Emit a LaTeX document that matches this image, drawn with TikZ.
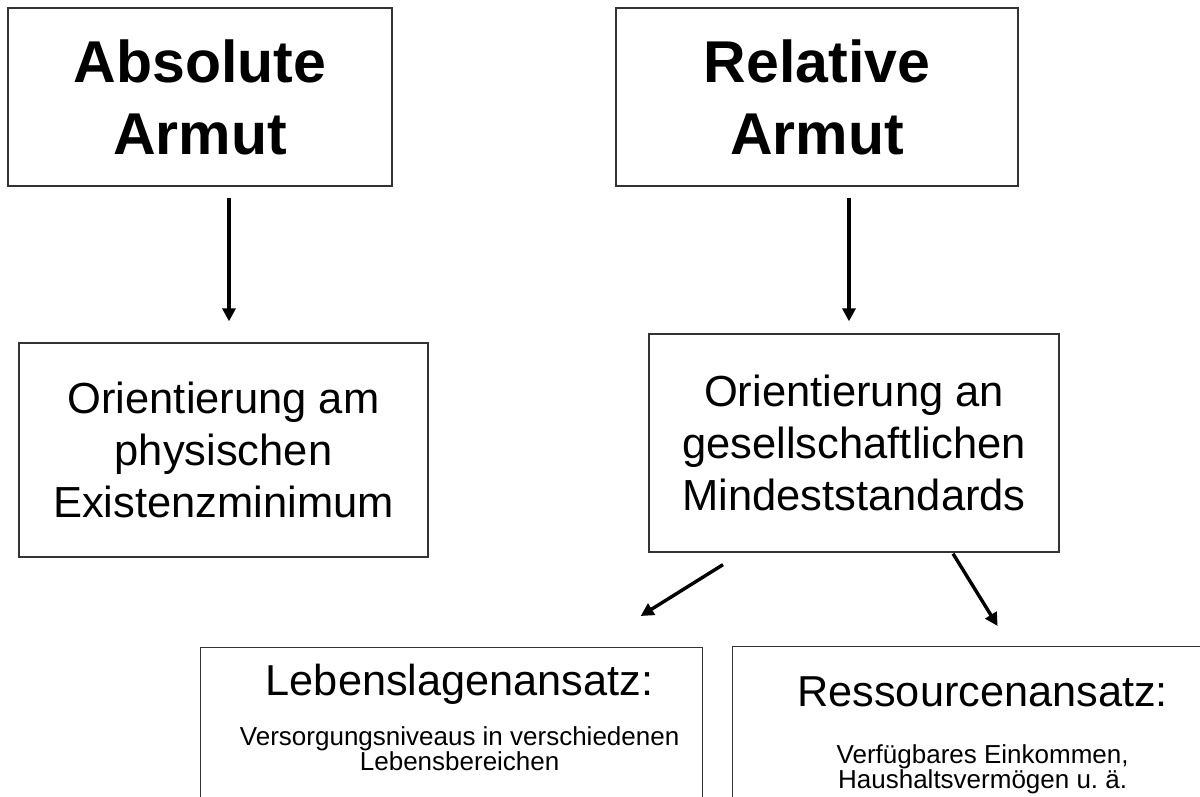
\documentclass[tikz,border=0pt]{standalone}
\usepackage{fontspec}
\setmainfont{Liberation Sans}
\usetikzlibrary{arrows.meta,positioning,calc}

\begin{document}
\begin{tikzpicture}[x=1pt,y=-1pt] % one unit per pixel, y runs downwards
\tikzset{kasten/.style={draw=black!80,line width=1.3pt,rectangle,align=center,inner sep=0pt}} % plain framed box
\tikzset{titel/.style={kasten,font=\fontsize{59}{72}\selectfont\bfseries}} % the two headings
\tikzset{mitte/.style={kasten,font=\fontsize{43.5}{52}\selectfont}} % second row
\tikzset{ansatz/.style={font=\fontsize{43.3}{52}\selectfont,inner sep=0pt,anchor=base}}
\tikzset{klein/.style={font=\fontsize{26}{25.5}\selectfont,align=center,inner sep=0pt,anchor=north}}
\tikzset{pfeil/.style={line width=3.4pt,-{Triangle[length=13pt,width=13pt]}}}
\useasboundingbox (0,0) rectangle (1200,796);
\clip (0,0) rectangle (1200,796);
\node[titel,minimum width=384pt,minimum height=178pt] (abs) at (200,97) {Absolute\\Armut};
\node[titel,minimum width=402pt,minimum height=178pt] (rel) at (817,97) {Relative\\Armut};
\node[mitte,minimum width=409pt,minimum height=214pt] (orabs) at (223.5,450) {Orientierung am\\physischen\\Existenzminimum};
\node[mitte,minimum width=410pt,minimum height=218pt] (orrel) at (854,443) {Orientierung an\\gesellschaftlichen\\Mindeststandards};
\node[kasten,minimum width=502pt,minimum height=220pt,anchor=north west] (lebens) at (200,647) {}; % runs off the page
\node[kasten,minimum width=500pt,minimum height=220pt,anchor=north west] (ress) at (732,646) {};
\node[ansatz] (lebenst) at ([xshift=8pt,yshift=-48pt]lebens.north) {Lebenslagenansatz:};
\node[klein] (lebensk) at ([xshift=8pt,yshift=-79pt]lebens.north) {Versorgungsniveaus in verschiedenen\\Lebensbereichen};
\node[ansatz] (resst) at ([yshift=-60pt]ress.north) {Ressourcenansatz:};
\node[klein] (ressk) at ([yshift=-98pt]ress.north) {Verfügbares Einkommen,\\Haushaltsvermögen u.~ä.};
% arrows
\draw[pfeil] ([xshift=29pt,yshift=-11pt]abs.south) -- ([xshift=5.5pt,yshift=21pt]orabs.north);
\draw[pfeil] ([xshift=32pt,yshift=-11pt]rel.south) -- ([xshift=-5pt,yshift=12pt]orrel.north);
\draw[pfeil] ([xshift=-131pt,yshift=-12pt]orrel.south) -- ([xshift=189pt,yshift=31pt]lebens.north);
\draw[pfeil] ([xshift=99pt,yshift=-1pt]orrel.south) -- ([xshift=15pt,yshift=20pt]ress.north);
\end{tikzpicture}
\end{document}
